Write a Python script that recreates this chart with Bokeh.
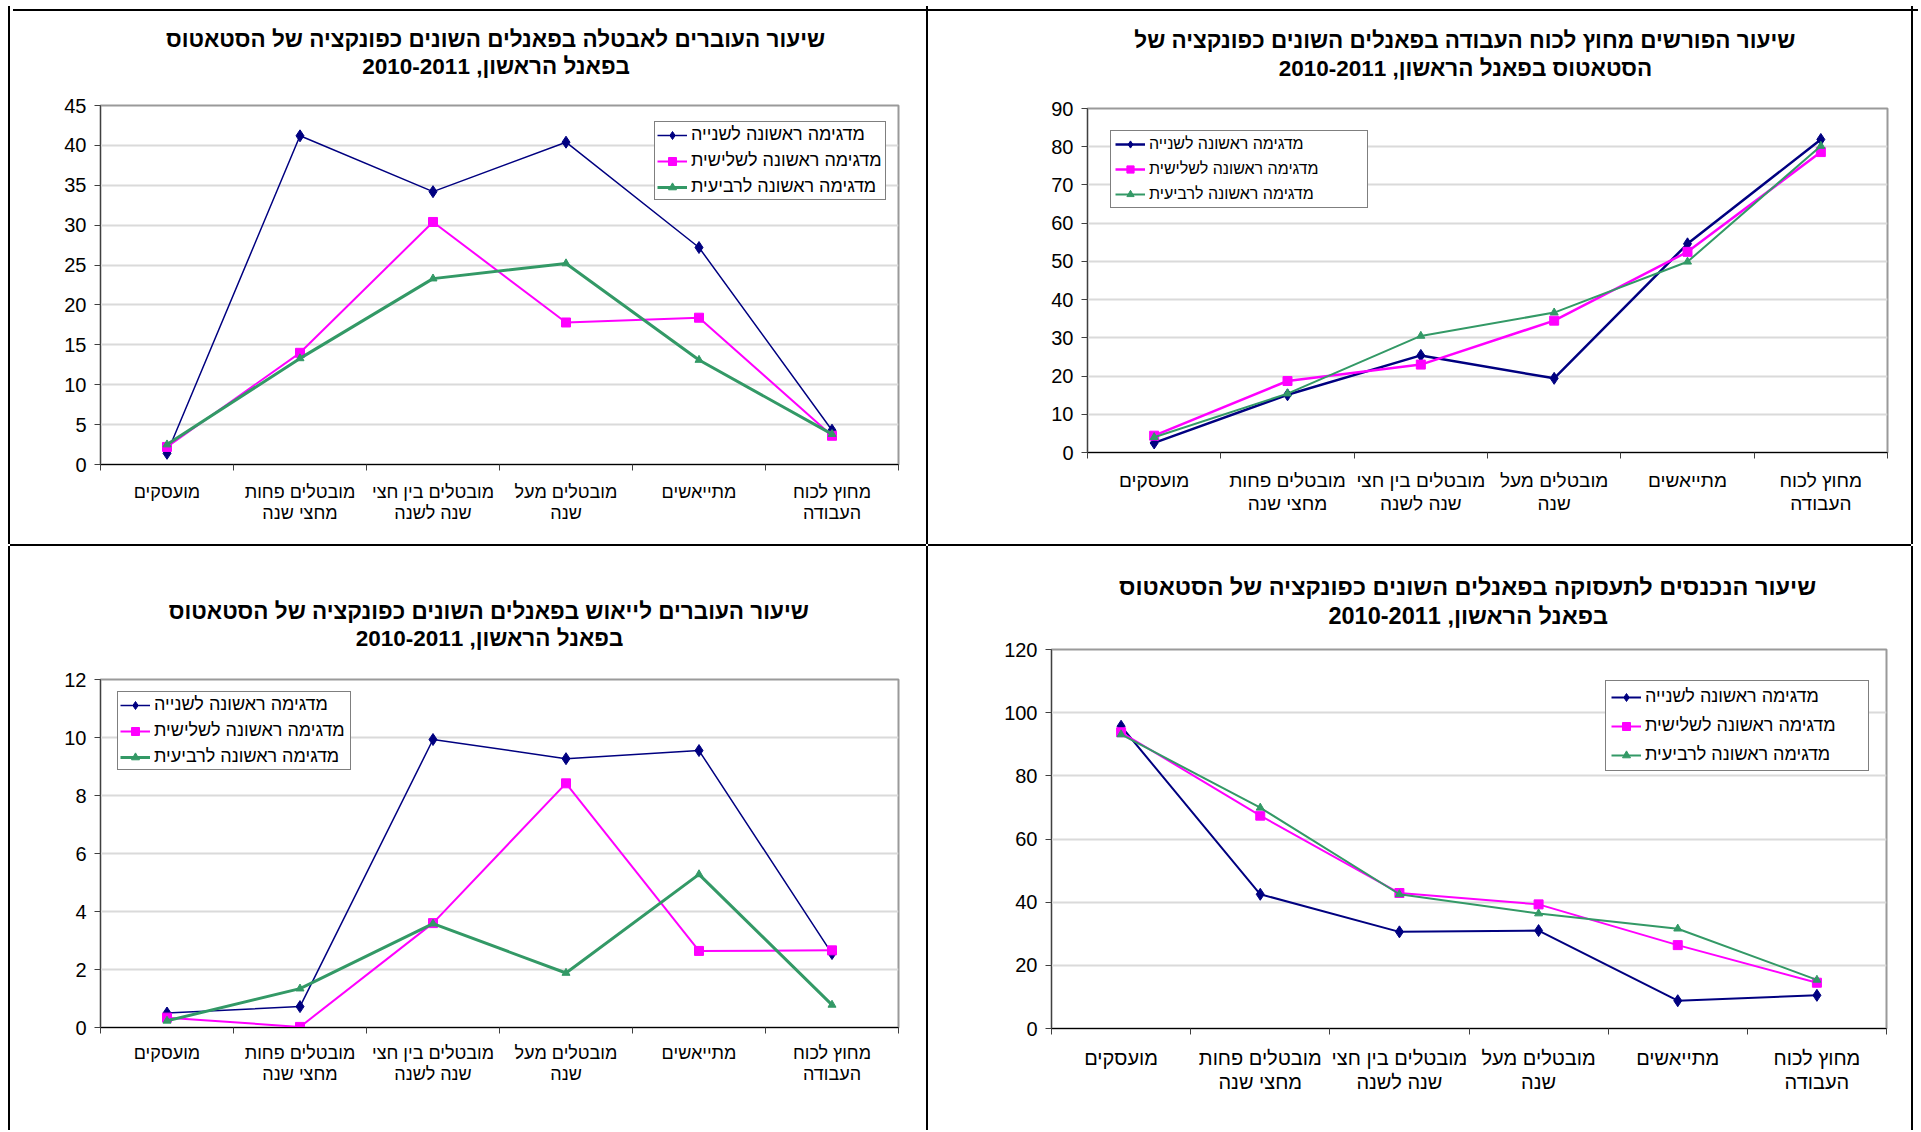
from bokeh.plotting import figure
from bokeh.models import Range1d, FixedTicker, Legend, LegendItem, Div, LinearAxis
from bokeh.embed import file_html
from bokeh.resources import INLINE

# ---------------- data ----------------
categories = ["מועסקים", "מובטלים פחות\nמחצי שנה", "מובטלים בין חצי\nשנה לשנה",
              "מובטלים מעל\nשנה", "מתייאשים", "מחוץ לכוח\nהעבודה"]
series_names = ["מדגימה ראשונה לשנייה", "מדגימה ראשונה לשלישית", "מדגימה ראשונה לרביעית"]

# transition to unemployment
unemp_2 = [1.4, 41.2, 34.2, 40.4, 27.2, 4.3]
unemp_3 = [2.2, 14.0, 30.4, 17.8, 18.4, 3.6]
unemp_4 = [2.5, 13.3, 23.3, 25.2, 13.1, 3.8]

# leaving the labour force
olf_2 = [2.5, 15.1, 25.4, 19.4, 54.6, 81.9]
olf_3 = [4.4, 18.7, 23.0, 34.5, 52.5, 78.6]
olf_4 = [4.0, 15.4, 30.5, 36.6, 49.9, 80.2]

# transition to despair
desp_2 = [0.5, 0.72, 9.93, 9.27, 9.55, 2.55]
desp_3 = [0.34, 0.02, 3.6, 8.42, 2.64, 2.66]
desp_4 = [0.23, 1.34, 3.58, 1.88, 5.28, 0.78]

# entering employment
emp_2 = [95.7, 42.5, 30.6, 31.0, 8.8, 10.5]
emp_3 = [93.8, 67.4, 42.9, 39.3, 26.4, 14.5]
emp_4 = [93.1, 69.9, 42.5, 36.4, 31.6, 15.4]

title_tl = "שיעור העוברים לאבטלה בפאנלים השונים כפונקציה של הסטאטוס\nבפאנל הראשון, 2010-2011"
title_tr = "שיעור הפורשים מחוץ לכוח העבודה בפאנלים השונים כפונקציה של\nהסטאטוס בפאנל הראשון, 2010-2011"
title_bl = "שיעור העוברים לייאוש בפאנלים השונים כפונקציה של הסטאטוס\nבפאנל הראשון, 2010-2011"
title_br = "שיעור הנכנסים לתעסוקה בפאנלים השונים כפונקציה של הסטאטוס\nבפאנל הראשון, 2010-2011"

COLORS = ["#000080", "#FF00FF", "#339966"]
MARKERS = ["diamond", "square", "triangle"]
MSIZES = [12, 9, 8]
FONT = "Liberation Sans"
SHADOW_LRB = "-2px 0 0 0 #000, 2px 0 0 0 #000, 0 2px 0 0 #000"
SHADOW_LRT = "-2px 0 0 0 #000, 2px 0 0 0 #000, 0 -2px 0 0 #000"


def make_panel(pos, fw, fh, bl, br, bt, bb, ymax, ystep, title, t_x, t_size, t_lh, t_standoff,
               series, lws, lab_size, lab_lh, lab_standoff,
               leg_font, leg_pad, leg_spacing, leg_item_h, leg_loc, leg_label_w, shadow):
    p = figure(frame_width=fw, frame_height=fh, x_range=Range1d(0, 6), y_range=Range1d(0, ymax),
               output_backend="svg", toolbar_location=None, tools="", title=None,
               min_border_left=bl, min_border_right=br, min_border_top=bt, min_border_bottom=bb,
               styles={"position": "absolute", "left": f"{pos[0]}px", "top": f"{pos[1]}px",
                       "box-shadow": shadow})
    p.background_fill_color = "white"
    p.border_fill_color = "white"
    p.outline_line_color = "#9a9a9a"
    p.outline_line_width = 2

    # two-line chart title, carried by a bare axis above the frame (lines centred)
    tax = LinearAxis(ticker=FixedTicker(ticks=[t_x]), major_label_overrides={t_x: title},
                     axis_line_color=None, major_tick_line_color=None, minor_tick_line_color=None,
                     major_tick_out=0, major_tick_in=0, minor_tick_out=0, minor_tick_in=0,
                     major_label_standoff=t_standoff, major_label_text_font=FONT,
                     major_label_text_font_size=t_size, major_label_text_font_style="bold",
                     major_label_text_line_height=t_lh, major_label_text_color="black")
    p.add_layout(tax, "above")

    # y axis
    yt = list(range(0, ymax + 1, ystep))
    p.yaxis.ticker = FixedTicker(ticks=yt)
    p.yaxis.axis_line_color = "#404040"
    p.yaxis.major_tick_line_color = "#404040"
    p.yaxis.major_tick_out = 6
    p.yaxis.major_tick_in = 0
    p.yaxis.minor_tick_line_color = None
    p.yaxis.major_label_text_font = FONT
    p.yaxis.major_label_text_font_size = "20px"
    p.yaxis.major_label_text_color = "black"
    p.yaxis.major_label_standoff = 8
    p.ygrid.grid_line_color = "#dadada"
    p.ygrid.grid_line_width = 2
    p.xgrid.visible = False

    # x axis: labels at category centres, ticks on category boundaries
    centers = [i + 0.5 for i in range(len(categories))]
    bounds = list(range(len(categories) + 1))
    xax = p.below[0]
    xax.ticker = FixedTicker(ticks=centers, minor_ticks=bounds)
    xax.major_label_overrides = {c: lab for c, lab in zip(centers, categories)}
    xax.axis_line_color = "black"
    xax.major_tick_line_color = None
    xax.major_tick_out = 0
    xax.major_tick_in = 0
    xax.minor_tick_line_color = "#404040"
    xax.minor_tick_out = 6
    xax.minor_tick_in = 0
    xax.major_label_text_font = FONT
    xax.major_label_text_font_size = lab_size
    xax.major_label_text_line_height = lab_lh
    xax.major_label_text_color = "black"
    xax.major_label_standoff = lab_standoff

    items = []
    for name, vals, col, mk, ms, lw in zip(series_names, series, COLORS, MARKERS, MSIZES, lws):
        r1 = p.line(centers, vals, line_color=col, line_width=lw)
        r2 = p.scatter(centers, vals, marker=mk, size=ms, fill_color=col, line_color=col)
        items.append(LegendItem(label=name, renderers=[r1, r2]))

    leg = Legend(items=items, location=leg_loc, margin=0,
                 border_line_color="black", border_line_width=1,
                 background_fill_color="white", background_fill_alpha=1,
                 label_text_font=FONT, label_text_font_size=leg_font, label_text_color="black",
                 glyph_width=30, glyph_height=leg_item_h, label_height=leg_item_h,
                 label_standoff=4, spacing=leg_spacing, padding=leg_pad,
                 label_width=leg_label_w)
    p.add_layout(leg)
    return p


p_tl = make_panel((10, 6), 798, 359, 90, 28, 99, 80, 45, 5, title_tl, 2.97, "22.5px", 1.08, 27,
                  [unemp_2, unemp_3, unemp_4], [1.5, 2, 3],
                  "18px", 1.06, 11,
                  "18px", 2, 5, 20, (554, 264), 192, SHADOW_LRB)
p_tr = make_panel((928, 6), 800, 344, 159, 24, 102, 92, 90, 10, title_tr, 2.83, "22.5px", 1.1, 28,
                  [olf_2, olf_3, olf_4], [2.5, 2.5, 2],
                  "19px", 1.1, 11,
                  "16px", 4, 7, 18, (23, 244), 214, SHADOW_LRB)
p_bl = make_panel((10, 546), 798, 348, 90, 28, 133, 103, 12, 2, title_bl, 2.92, "22.5px", 1.06, 29,
                  [desp_2, desp_3, desp_4], [1.5, 2, 3],
                  "18px", 1.06, 9,
                  "18px", 2, 5, 20, (17, 257), 194, SHADOW_LRT)
p_br = make_panel((928, 546), 835, 379, 123, 25, 103, 102, 120, 20, title_br, 2.99, "23.5px", 1.09, 21,
                  [emp_2, emp_3, emp_4], [2, 2, 2],
                  "20px", 1.1, 12,
                  "18px", 5, 8, 20, (554, 257), 218, SHADOW_LRT)

top_bar = Div(text="", width=1905, height=2,
              styles={"position": "absolute", "left": "8px", "top": "4px",
                      "background-color": "black", "z-index": "10"})

open("out.html", "w").write(file_html([p_tl, p_tr, p_bl, p_br, top_bar], INLINE))
